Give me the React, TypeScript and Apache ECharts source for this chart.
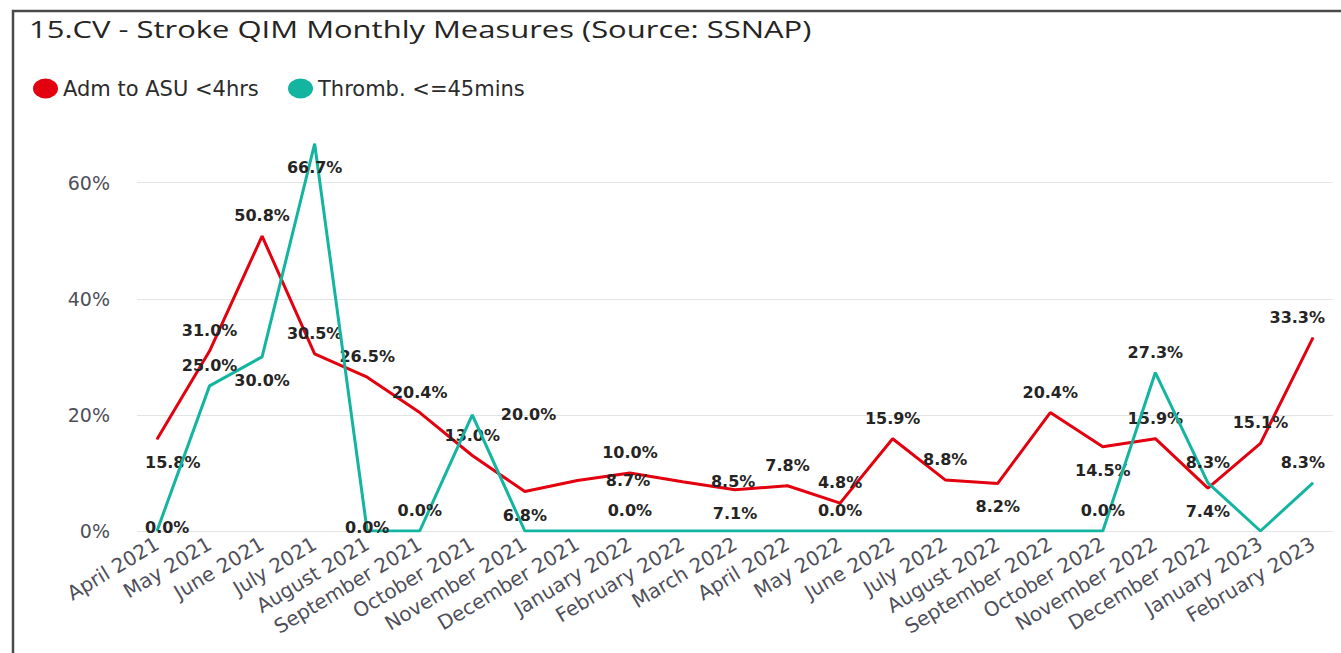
import React, { useEffect, useRef } from "react";
import * as echarts from "echarts";

const titleText = "15.CV - Stroke QIM Monthly Measures (Source: SSNAP)";

const categories = [
  "April 2021", "May 2021", "June 2021", "July 2021", "August 2021",
  "September 2021", "October 2021", "November 2021", "December 2021",
  "January 2022", "February 2022", "March 2022", "April 2022", "May 2022",
  "June 2022", "July 2022", "August 2022", "September 2022", "October 2022",
  "November 2022", "December 2022", "January 2023", "February 2023",
];

const seriesNames = ["Adm to ASU <4hrs", "Thromb. <=45mins"];

const admToAsu = [
  15.8, 31.0, 50.8, 30.5, 26.5, 20.4, 13.0, 6.8, 8.7, 10.0, 8.5, 7.1,
  7.8, 4.8, 15.9, 8.8, 8.2, 20.4, 14.5, 15.9, 7.4, 15.1, 33.3,
];

const thromb = [
  0.0, 25.0, 30.0, 66.7, 0.0, 0.0, 20.0, 0.0, 0.0, 0.0, 0.0, 0.0,
  0.0, 0.0, 0.0, 0.0, 0.0, 0.0, 0.0, 27.3, 8.3, 0.0, 8.3,
];

const yTicks = [0, 20, 40, 60];

// label placement per point: T top, B bottom, R right, C on the point, "" hidden
const admLabelPlace = [
  "B", "T", "T", "T", "T", "T", "T", "B", "R", "T", "R", "B",
  "T", "T", "T", "T", "B", "T", "B", "T", "B", "T", "T",
];
const thrombLabelPlace = [
  "C", "T", "B", "B", "C", "T", "R", "", "", "T", "", "",
  "", "T", "", "", "", "", "T", "T", "T", "", "T",
];

const RED = "#E3000F";
const TEAL = "#13B5A0";
const LABEL_COLOR = "#252423";
const AXIS_COLOR = "#4F4F5A";

function measure(text: string, font: string): number {
  const c = document.createElement("canvas");
  const ctx = c.getContext("2d");
  if (!ctx) return text.length * 10;
  ctx.font = font;
  return ctx.measureText(text).width;
}

function labelFor(place: string) {
  const base = {
    show: true,
    color: LABEL_COLOR,
    fontFamily: "DejaVu Sans",
    fontWeight: "bold" as const,
    fontSize: 16,
    formatter: (p: any) => Number(p.value).toFixed(1) + "%",
  };
  if (place === "T") return { ...base, position: "top", distance: 12 };
  if (place === "B") return { ...base, position: "bottom", distance: 15 };
  if (place === "R") return { ...base, position: "right", distance: 28 };
  if (place === "C") return { ...base, position: "top", distance: -5 };
  return { show: false };
}

function buildData(values: number[], places: string[]) {
  return values.map((v, i) => ({ value: v, label: labelFor(places[i]) }));
}

export default function App() {
  const ref = useRef<HTMLDivElement>(null);

  useEffect(() => {
    if (!ref.current) return;
    const chart = echarts.init(ref.current, null, { renderer: "svg" });

    const W = 1341;
    const plotLeft = 137;
    const plotRight = 1333;
    const zeroY = 531;
    const sixtyY = 182.7;
    const pxPerUnit = (zeroY - sixtyY) / 60;
    const dataMax = 80;
    const dataTop = zeroY - dataMax * pxPerUnit;

    const titleFont = '23px "Open Sans"';
    const titleW = measure(titleText, titleFont);
    const titleScale = 783 / titleW;

    const legendFont = '21px "DejaVu Sans"';
    const legendTextW = measure(seriesNames[0], legendFont);
    const legendGap = Math.max(8, 283 - (28 + 25 + 5 + legendTextW));

    const clampL = plotLeft + 8;
    const clampR = plotRight - 8;

    const option: any = {
      animation: false,
      backgroundColor: "#ffffff",
      graphic: [
        {
          type: "rect",
          silent: true,
          z: -10,
          shape: { x: 13, y: 11, width: W + 20, height: 700 },
          style: { fill: "none", stroke: "#4a4a4a", lineWidth: 2.5 },
        },
        {
          type: "text",
          x: 29,
          y: 29,
          scaleX: titleScale,
          style: {
            text: titleText,
            font: titleFont,
            fill: LABEL_COLOR,
            verticalAlign: "middle",
            align: "left",
          },
        },
      ],
      legend: {
        left: 28,
        top: 73,
        itemWidth: 25,
        itemHeight: 20,
        itemGap: legendGap,
        icon: "path://M12.5,0A12.5,10,0,1,1,12.5,20A12.5,10,0,1,1,12.5,0Z",
        textStyle: {
          fontFamily: "DejaVu Sans",
          fontSize: 21,
          color: "#2b2b2b",
        },
        data: seriesNames,
      },
      grid: [
        {
          left: 157,
          right: W - 1313,
          top: dataTop,
          bottom: 653 - zeroY,
        },
        {
          left: plotLeft,
          right: W - plotRight,
          top: sixtyY,
          bottom: 653 - zeroY,
        },
      ],
      xAxis: [
        {
          type: "category",
          gridIndex: 0,
          data: categories,
          boundaryGap: false,
          axisLine: { show: false },
          axisTick: { show: false },
          axisLabel: {
            rotate: 31,
            margin: 11,
            interval: 0,
            color: AXIS_COLOR,
            fontFamily: "DejaVu Sans",
            fontSize: 20,
          },
        },
        {
          type: "value",
          gridIndex: 1,
          show: false,
          min: 0,
          max: 1,
        },
      ],
      yAxis: [
        {
          type: "value",
          gridIndex: 0,
          min: 0,
          max: dataMax,
          show: false,
          splitLine: { show: false },
        },
        {
          type: "value",
          gridIndex: 1,
          min: yTicks[0],
          max: yTicks[yTicks.length - 1],
          interval: yTicks[1] - yTicks[0],
          axisLine: { show: false },
          axisTick: { show: false },
          axisLabel: {
            margin: 27,
            color: AXIS_COLOR,
            fontFamily: "DejaVu Sans",
            fontSize: 19,
            formatter: (v: number) => v + "%",
          },
          splitLine: { lineStyle: { color: "#E4E4E4", width: 1 } },
        },
      ],
      series: [
        {
          name: seriesNames[0],
          type: "line",
          xAxisIndex: 0,
          yAxisIndex: 0,
          data: buildData(admToAsu, admLabelPlace),
          symbol: "circle",
          symbolSize: 1,
          showSymbol: true,
          itemStyle: { color: RED },
          lineStyle: { color: RED, width: 3 },
          z: 3,
        },
        {
          name: seriesNames[1],
          type: "line",
          xAxisIndex: 0,
          yAxisIndex: 0,
          data: buildData(thromb, thrombLabelPlace),
          symbol: "circle",
          symbolSize: 1,
          showSymbol: true,
          itemStyle: { color: TEAL },
          lineStyle: { color: TEAL, width: 3 },
          z: 4,
        },
      ],
      labelLayout: (params: any) => {
        const r = params.labelRect;
        if (!r) return {};
        if (r.x < clampL) return { dx: clampL - r.x };
        if (r.x + r.width > clampR) return { dx: clampR - (r.x + r.width) };
        return {};
      },
    };

    chart.setOption(option);
    return () => chart.dispose();
  }, []);

  return (
    <div
      ref={ref}
      style={{ position: "absolute", left: 0, top: 0, width: 1341, height: 653 }}
    />
  );
}
